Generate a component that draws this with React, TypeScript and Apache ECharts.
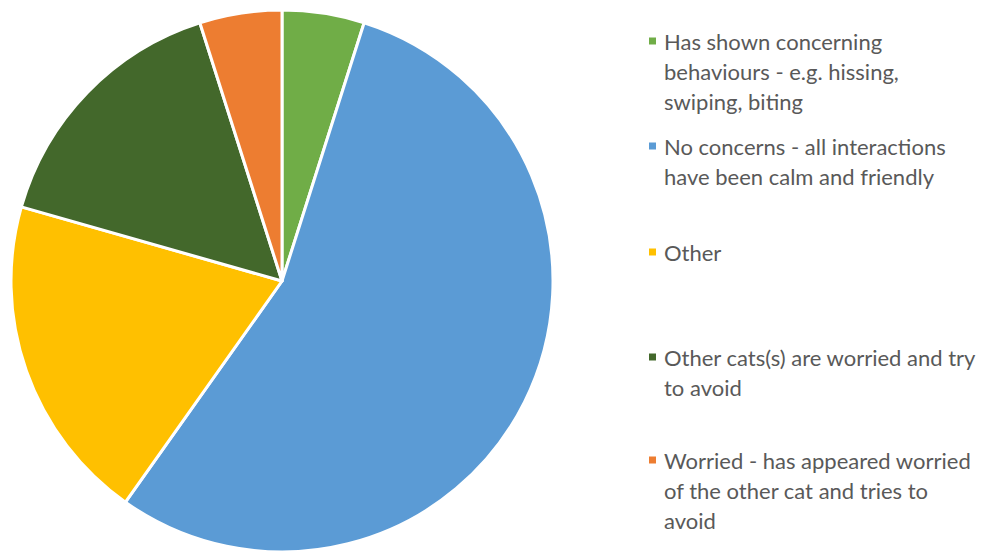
import React, { useEffect, useRef } from "react";
import * as echarts from "echarts";

const categories = [
  "Has shown concerning behaviours - e.g. hissing, swiping, biting",
  "No concerns - all interactions have been calm and friendly",
  "Other",
  "Other cats(s) are worried and try to avoid",
  "Worried - has appeared worried of the other cat and tries to avoid",
];
const legendLines = [
  ["Has shown concerning", "behaviours - e.g. hissing,", "swiping, biting"],
  ["No concerns - all interactions", "have been calm and friendly"],
  ["Other"],
  ["Other cats(s) are worried and try", "to avoid"],
  ["Worried - has appeared worried", "of the other cat and tries to", "avoid"],
];
const values = [5, 56, 20, 16, 5];
const colors = ["#70AD47", "#5B9BD5", "#FFC000", "#43682B", "#ED7D31"];
const legendIconCenters = [41, 146, 252, 357, 460];

export default function App() {
  const ref = useRef<HTMLDivElement>(null);
  useEffect(() => {
    document.body.style.margin = "0";
    const chart = echarts.init(ref.current!, null, { renderer: "svg" });
    const lh = 30;
    const iconSize = 9;
    const legends = categories.map((name, i) => {
      const n = legendLines[i].length;
      const pre = new Array(n - 1).fill(" ");
      return {
        data: [name],
        left: 647,
        top: legendIconCenters[i] - ((2 * n - 1) * lh) / 2,
        orient: "vertical",
        itemWidth: iconSize,
        itemHeight: iconSize,
        icon: "rect",
        padding: 0,
        selectedMode: false,
        formatter: () => [...pre, ...legendLines[i]].join("\n"),
        textStyle: {
          fontFamily: "Lato, 'Open Sans', sans-serif",
          fontSize: 22,
          color: "#595959",
          lineHeight: lh,
          padding: [0, 0, 0, 2],
        },
      };
    });
    chart.setOption({
      animation: false,
      color: colors,
      legend: legends,
      series: [
        {
          type: "pie",
          center: [282, 281],
          radius: 271,
          startAngle: 90,
          clockwise: true,
          label: { show: false },
          labelLine: { show: false },
          itemStyle: { borderColor: "#ffffff", borderWidth: 3 },
          emphasis: { disabled: true },
          data: categories.map((name, i) => ({ name, value: values[i] })),
        },
      ],
    });
    return () => chart.dispose();
  }, []);
  return <div ref={ref} style={{ width: 995, height: 551 }} />;
}
